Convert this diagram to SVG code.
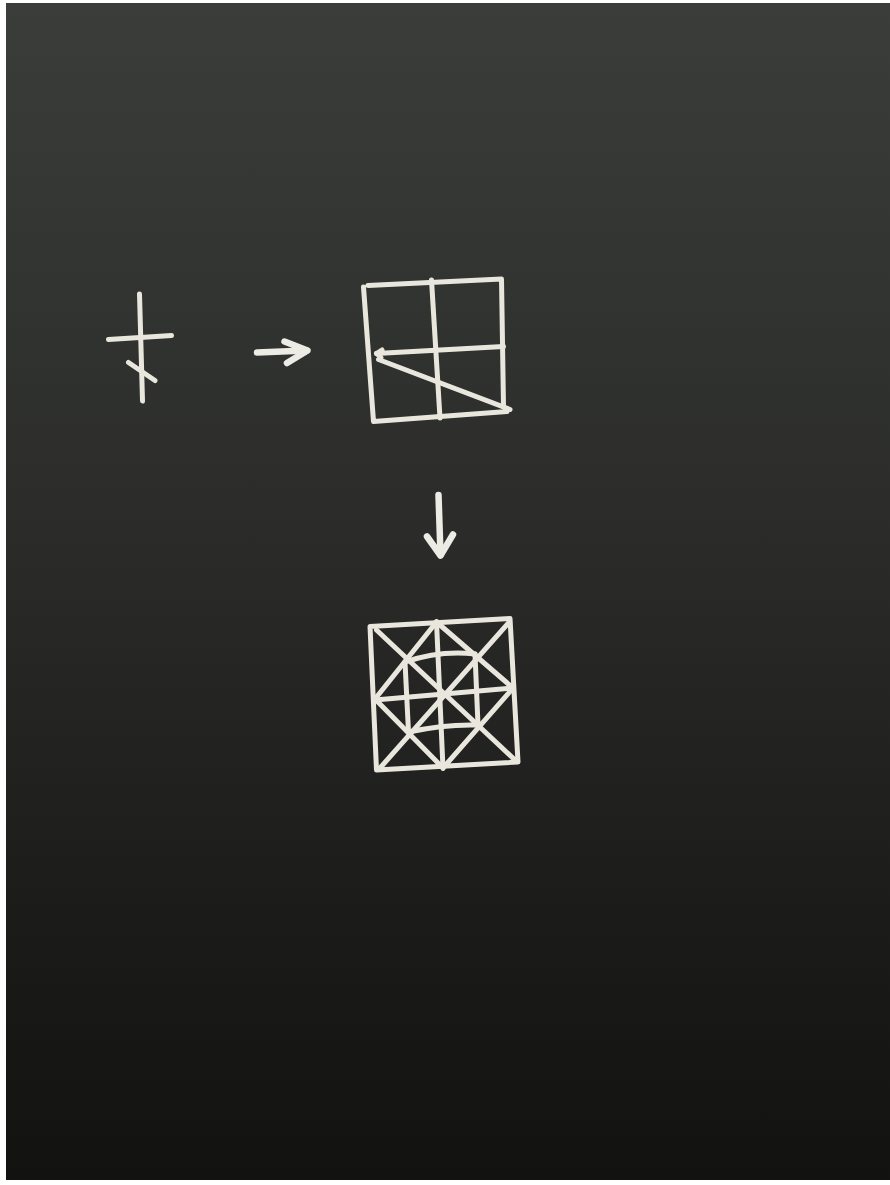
<svg xmlns="http://www.w3.org/2000/svg" width="890" height="1185" viewBox="0 0 890 1185">
  <defs>
    <linearGradient id="bg" x1="0" y1="0" x2="0" y2="1">
      <stop offset="0" stop-color="#3a3d3a"/>
      <stop offset="0.45" stop-color="#2b2c29"/>
      <stop offset="0.8" stop-color="#1a1a18"/>
      <stop offset="1" stop-color="#121210"/>
    </linearGradient>
    <style>
      .chalk { fill: none; stroke: #e9e7dd; stroke-width: 5; stroke-linecap: round; stroke-linejoin: round; }
      .arrow { fill: none; stroke: #ecebe4; stroke-width: 6.5; stroke-linecap: round; stroke-linejoin: round; }
    </style>
  </defs>
  <rect x="0" y="0" width="890" height="1185" fill="#ffffff"/>
  <rect x="6" y="3" width="884" height="1177" fill="url(#bg)"/>

  <g id="cross" class="chalk">
    <path d="M139.5,294 L142.5,401"/>
    <path d="M108.5,339.5 L171.5,335.5"/>
    <path d="M128.5,362.5 L155,380.5"/>
  </g>

  <g id="grid" class="chalk">
    <path d="M368,285.5 L501.5,279 L503.5,407 M363.5,287 L373.5,421.5 L507,411.5"/>
    <path d="M431.5,280 L440,418"/>
    <path d="M376.5,353.5 L503.5,346.5"/>
    <path d="M378.5,359.5 L510,409.5"/>
    <path d="M376.5,353.5 L382,350 M376.5,353.5 L381,357.5"/>
  </g>

  <g id="pattern" class="chalk">
    <path d="M370,626.5 L510,618.5 L518,762 L376.5,770 Z"/>
    <path d="M376.5,630 L515,760"/>
    <path d="M508.5,623 L380,768"/>
    <path d="M436.5,621.5 L443,768.5"/>
    <path d="M375,700 L513.5,688"/>
    <path d="M436.5,622 L375,699 L443,768 L513,688 Z"/>
    <path d="M405,662 Q440,650 475,654"/>
    <path d="M405,662 L408.5,732"/>
    <path d="M408.5,732 Q445,724 478,725"/>
    <path d="M475,654 L478,725"/>
  </g>

  <g id="connectors" class="arrow">
    <path d="M257,352.5 L306.5,350.5"/>
    <path d="M284.5,341.5 L307.5,350.5 L287,363"/>
    <path d="M438.5,495 L440.5,555"/>
    <path d="M427,536.5 L440.5,555.5 L453,534.5"/>
  </g>
</svg>
